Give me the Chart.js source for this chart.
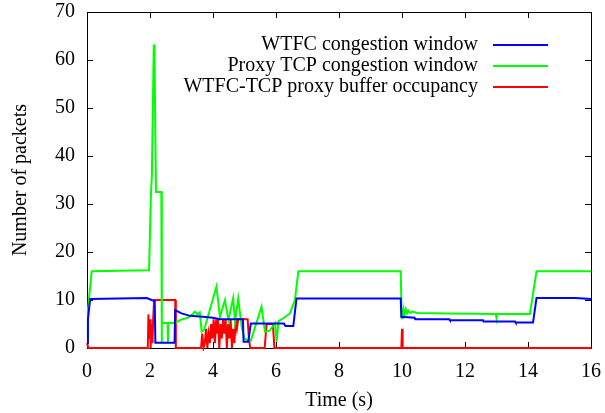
<!DOCTYPE html>
<html>
<head>
<meta charset="utf-8">
<script src="https://cdn.jsdelivr.net/npm/chart.js@4/dist/chart.umd.min.js"></script>
<style>
  body { margin: 0; background: #fff; }
  #wrap { width: 605px; height: 413px; }
</style>
</head>
<body>
<div id="wrap"><canvas id="cwndChart" width="605" height="413"></canvas></div>
<script>
// WTFC congestion window (packets) over time (s)
const wtfcTime = [0, 0.03, 0.1, 1.0, 1.9, 2.05, 2.15, 2.17, 2.78, 2.8, 3.0, 3.27, 3.68, 4.0, 4.22, 4.95, 4.97, 5.12, 5.2, 6.25, 6.3, 6.55, 6.65, 9.96, 9.98, 10.4, 10.42, 11.5, 11.52, 12.57, 12.59, 13.59, 13.61, 14.16, 14.27, 15.5, 16];
const wtfcCwnd = [1, 6, 10.2, 10.3, 10.4, 10.0, 9.8, 1.1, 1.1, 7.9, 7.2, 6.7, 6.5, 6.3, 6.0, 6.0, 1.3, 1.3, 5.1, 5.1, 4.6, 4.6, 10.3, 10.3, 6.5, 6.3, 6.0, 6.0, 5.8, 5.8, 5.5, 5.5, 5.3, 5.3, 10.4, 10.4, 10.2];

// Proxy TCP congestion window
const proxyTime = [0, 0.03, 0.15, 1.0, 1.97, 2.03, 2.06, 2.12, 2.14, 2.19, 2.36, 2.37, 2.38, 2.56, 2.57, 2.58, 2.8, 2.95, 3.2, 3.35, 3.43, 3.5, 3.58, 3.64, 3.72, 4.11, 4.22, 4.38, 4.49, 4.64, 4.7, 4.8, 4.91, 5.0, 5.07, 5.2, 5.54, 5.65, 5.8, 5.97, 6.02, 6.08, 6.23, 6.44, 6.6, 6.71, 9.96, 9.99, 10.02, 10.05, 10.08, 10.12, 10.16, 10.2, 10.26, 10.32, 10.5, 11.5, 12.98, 13.0, 13.02, 14.06, 14.27, 16];
const proxyCwnd = [2, 8, 16, 16.1, 16.2, 32, 36, 63, 63, 32.5, 32.5, 1, 5.2, 5.2, 1, 5.2, 5.2, 5.8, 6.3, 7.0, 7.6, 7.0, 7.4, 3.4, 3.8, 12.8, 6.5, 10, 5.8, 10.4, 5.5, 10.3, 4.4, 2.0, 1.7, 1.5, 8.6, 3.4, 3.6, 5.2, 1.3, 5.6, 6.2, 7.2, 10, 16, 16, 6.2, 6.2, 8, 7, 8.1, 7.2, 7.8, 7.3, 7.6, 7.3, 7.2, 7.1, 6.2, 7.1, 7.1, 16, 16];

// WTFC-TCP proxy buffer occupancy
const bufTime = [0, 0.05, 1.93, 1.95, 1.98, 2.0, 2.02, 2.05, 2.08, 2.1, 2.13, 2.8, 2.82, 3.62, 3.66, 3.7, 3.74, 3.78, 3.82, 3.86, 3.9, 3.94, 3.98, 4.02, 4.06, 4.1, 4.13, 4.16, 4.2, 4.24, 4.28, 4.32, 4.36, 4.4, 4.44, 4.48, 4.52, 4.56, 4.6, 4.64, 4.68, 4.72, 4.76, 4.8, 5.1, 5.14, 5.18, 5.64, 5.7, 5.9, 5.95, 9.98, 10.0, 10.02, 16];
const bufOcc = [1, 0, 0, 7, 2, 6, 0, 5, 1, 6, 10, 10, 0, 0, 3, 0, 1, 4, 0, 3, 1, 5, 2, 6, 1, 6, 3, 6, 0, 5, 2, 6, 3, 6, 0, 5, 2, 6, 0, 4, 1, 6, 4, 6, 6, 2, 0, 0, 5, 5, 0, 0, 4, 0, 0];

const xTicks = [0, 2, 4, 6, 8, 10, 12, 14, 16];
const yTicks = [0, 10, 20, 30, 40, 50, 60, 70];

const serif = { family: "'Liberation Serif', 'Times New Roman', serif", size: 20 };

function toPoints(ts, vs) {
    return ts.map((t, i) => ({ x: t, y: vs[i] }));
}

// keep the plot box fixed: no extra room reserved for overhanging end labels
function fixBox(s, w, h) {
    if (w) s.width = w;
    if (h) s.height = h;
    s.paddingLeft = 0; s.paddingRight = 0;
    s.paddingTop = 0; s.paddingBottom = 0;
}

// gnuplot-style frame with inward ticks on all four sides
const framePlugin = {
    id: 'frame',
    beforeDatasetsDraw(chart) {
        const { ctx, chartArea: a, scales: { x, y } } = chart;
        ctx.save();
        ctx.strokeStyle = '#000';
        ctx.lineWidth = 1;
        ctx.strokeRect(a.left + 0.5, a.top + 0.5, a.right - a.left, a.bottom - a.top);
        ctx.beginPath();
        xTicks.forEach(v => {
            const px = Math.round(x.getPixelForValue(v)) + 0.5;
            ctx.moveTo(px, a.bottom); ctx.lineTo(px, a.bottom - 6);
            ctx.moveTo(px, a.top); ctx.lineTo(px, a.top + 6);
        });
        yTicks.forEach(v => {
            const py = Math.round(y.getPixelForValue(v)) + 0.5;
            ctx.moveTo(a.left, py); ctx.lineTo(a.left + 6, py);
            ctx.moveTo(a.right, py); ctx.lineTo(a.right - 6, py);
        });
        ctx.stroke();
        ctx.restore();
    }
};

// key in the upper right: right-aligned text followed by a line sample
const keyPlugin = {
    id: 'key',
    afterDraw(chart) {
        const ctx = chart.ctx;
        ctx.save();
        ctx.font = serif.size + 'px ' + serif.family;
        ctx.textAlign = 'right';
        ctx.textBaseline = 'middle';
        chart.data.datasets.forEach((ds, i) => {
            const yy = 45 + i * 21;
            ctx.fillStyle = '#000';
            ctx.fillText(ds.label, 478, yy);
            ctx.strokeStyle = ds.borderColor;
            ctx.lineWidth = 2;
            ctx.beginPath();
            ctx.moveTo(493, yy);
            ctx.lineTo(548, yy);
            ctx.stroke();
        });
        ctx.restore();
    }
};

const ctx = document.getElementById('cwndChart').getContext('2d');
const cwndChart = new Chart(ctx, {
    type: 'scatter',
    data: {
        datasets: [{
            label: 'WTFC congestion window',
            data: toPoints(wtfcTime, wtfcCwnd),
            borderColor: '#0000ff',
        }, {
            label: 'Proxy TCP congestion window',
            data: toPoints(proxyTime, proxyCwnd),
            borderColor: '#00ff00',
        }, {
            label: 'WTFC-TCP proxy buffer occupancy',
            data: toPoints(bufTime, bufOcc),
            borderColor: '#ff0000',
        }]
    },
    options: {
        responsive: false,
        animation: false,
        layout: { padding: { top: 12, right: 14, left: 0, bottom: 0 } },
        datasets: {
            scatter: {
                showLine: true,
                pointRadius: 0,
                borderWidth: 2,
                tension: 0,
                clip: 3
            }
        },
        scales: {
            x: {
                type: 'linear',
                min: 0,
                max: 16,
                afterFit: s => fixBox(s, 0, 65),
                afterBuildTicks: s => { s.ticks = xTicks.map(v => ({ value: v })); },
                grid: { display: false },
                border: { display: false },
                ticks: { color: '#000', font: serif, padding: 4, maxRotation: 0 },
                title: { display: true, text: 'Time (s)', color: '#000', font: serif, padding: { top: 0, bottom: 0 } }
            },
            y: {
                min: 0,
                max: 70,
                afterFit: s => fixBox(s, 87, 0),
                afterBuildTicks: s => { s.ticks = yTicks.map(v => ({ value: v })); },
                grid: { display: false },
                border: { display: false },
                ticks: { color: '#000', font: serif, padding: 4 },
                title: { display: true, text: 'Number of packets', color: '#000', font: serif, padding: { top: 9, bottom: 0 } }
            }
        },
        plugins: {
            legend: { display: false },
            tooltip: { enabled: false }
        }
    },
    plugins: [framePlugin, keyPlugin]
});
</script>
</body>
</html>
